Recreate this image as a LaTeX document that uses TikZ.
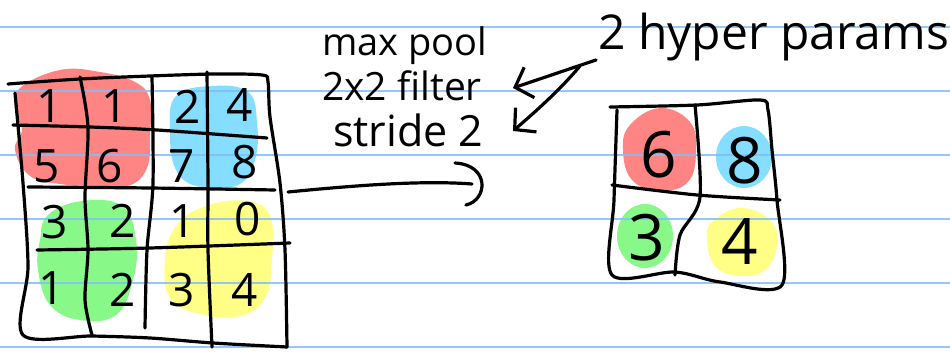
\documentclass[tikz,border=0pt]{standalone}
\usepackage{fontspec}
\setmainfont{Open Sans}
\usetikzlibrary{arrows.meta}
\definecolor{ruleblue}{HTML}{7FBFFA}
\definecolor{blobred}{HTML}{FF8585}
\definecolor{blobblue}{HTML}{85DDFF}
\definecolor{blobgreen}{HTML}{88F888}
\definecolor{blobyellow}{HTML}{FFFF85}
\tikzset{
 ink/.style={line width=3.2pt, line cap=round, line join=round, black},
 rulestroke/.style={line width=1.8pt, ruleblue},
 num/.style={font=\fontsize{46}{46}\selectfont, inner sep=0pt},
 bignum/.style={font=\fontsize{64}{64}\selectfont, inner sep=0pt},
 lbl/.style={inner sep=0pt, anchor=base west},
 barb/.style={-{Straight Barb[length=15pt,width=32pt,line width=3.2pt]}},
}
\begin{document}
\begin{tikzpicture}[x=1pt,y=-1pt]
\fill[white] (0,0) rectangle (950,352);
\useasboundingbox (0,0) rectangle (950,352);
% blobs left
\fill[blobred] plot[smooth cycle, tension=0.7] coordinates {(20,88) (60,70) (100,72) (135,82) (150,100) (150,135) (147,168) (128,186) (95,186) (60,184) (30,176) (15,150) (22,130) (15,110)};
\fill[blobblue] plot[smooth cycle, tension=0.7] coordinates {(176,96) (212,86) (248,92) (257,122) (255,160) (238,185) (200,187) (176,170) (170,130)};
\fill[blobgreen] plot[smooth cycle, tension=0.7] coordinates {(48,215) (82,201) (122,206) (136,240) (133,280) (116,315) (80,320) (50,305) (38,270) (40,240)};
\fill[blobyellow] plot[smooth cycle, tension=0.7] coordinates {(176,226) (206,206) (246,201) (270,216) (272,260) (265,298) (240,316) (200,314) (170,298) (165,260)};
% blobs right
\fill[blobred] plot[smooth cycle, tension=0.7] coordinates {(630,125) (660,108) (690,122) (696,152) (688,182) (660,191) (632,180) (623,150)};
\fill[blobblue] (744,157) ellipse[x radius=28, y radius=31];
\fill[blobgreen] (645,236) ellipse[x radius=28, y radius=32];
\fill[blobyellow] plot[smooth cycle, tension=0.7] coordinates {(712,222) (740,208) (770,220) (777,245) (765,270) (740,276) (715,266) (707,240)};
% ruled lines
\foreach \y in {27,91,155,219,283,347} \draw[rulestroke, opacity=0.85] (0,\y) -- (950,\y);
% left grid
\draw[ink] plot[smooth, tension=0.5] coordinates {(8,84) (80,79) (150,76) (215,74) (262,75) (268,82) (270,117) (280,183) (285,250) (287,347)};
\draw[ink] plot[smooth, tension=0.5] coordinates {(15,93) (23,183) (28,267) (23,335) (92,336) (150,338) (213,343) (287,347)};
\draw[ink] plot[smooth, tension=0.5] coordinates {(13,125) (90,127) (157,130) (267,138)};
\draw[ink] plot[smooth, tension=0.5] coordinates {(28,187) (150,188) (275,190)};
\draw[ink] plot[smooth, tension=0.5] coordinates {(37,250) (150,248) (290,243)};
\draw[ink] plot[smooth, tension=0.5] coordinates {(80,77) (88,127) (85,197) (88,250) (85,300) (92,335)};
\draw[ink] plot[smooth, tension=0.5] coordinates {(152,77) (153,183) (147,250) (145,328)};
\draw[ink] plot[smooth, tension=0.5] coordinates {(207,72) (208,183) (208,250) (212,347)};
% left numbers
\node[num] (a11) at (50,106) {1};
\node[num] (a12) at (115,106) {1};
\node[num] (a13) at (188,107) {2};
\node[num] (a14) at (240,105) {4};
\node[num] (a21) at (47,166) {5};
\node[num] (a22) at (110,166) {6};
\node[num] (a23) at (182,166) {7};
\node[num] (a24) at (245,162) {8};
\node[num] (a31) at (55,222) {3};
\node[num] (a32) at (123,221) {2};
\node[num] (a33) at (183,221) {1};
\node[num] (a34) at (248,219) {0};
\node[num] (a41) at (52,288) {1};
\node[num] (a42) at (123,290) {2};
\node[num] (a43) at (182,290) {3};
\node[num] (a44) at (245,290) {4};
% right grid
\draw[ink] plot[smooth, tension=0.5] coordinates {(610,107) (697,105) (760,100) (768,110) (772,150) (777,200) (782,285) (720,282) (675,272) (612,275) (614,200) (617,110)};
\draw[ink] plot[smooth, tension=0.5] coordinates {(612,185) (697,195) (780,200)};
\draw[ink] plot[smooth, tension=0.5] coordinates {(695,105) (700,197) (680,235) (675,275)};
\node[bignum] (b11) at (659,155) {6};
\node[bignum] (b12) at (745,161) {8};
\node[bignum] (b21) at (647,238) {3};
\node[bignum] (b22) at (740,242) {4};
% labels
\node[lbl, font=\fontsize{38}{38}\selectfont] (mp) at (322,56) {max pool};
\node[lbl, font=\fontsize{39}{39}\selectfont] (ff) at (322,101) {2x2 filter};
\node[lbl, font=\fontsize{43}{43}\selectfont] (st) at (333,147) {stride 2};
\node[lbl, font=\fontsize{48}{48}\selectfont] (hp) at (598,50) {2 hyper params};
% pooling arrow
\coordinate (gl) at (288,192);
\coordinate (gr) at (472,184);
\draw[ink] (gl) .. controls (350,186) and (420,180) .. (gr);
\draw[ink] (455,163) .. controls (490,165) and (488,200) .. (466,205);
% hyper-param arrows
\coordinate (h1) at (596,60);
\coordinate (h2) at (580,66);
\coordinate (t1) at (513,88);
\coordinate (t2) at (513,131);
\draw[ink, barb] (h1) -- (t1);
\draw[ink, barb] (h2) .. controls (560,90) and (535,112) .. (t2);
\end{tikzpicture}
\end{document}
